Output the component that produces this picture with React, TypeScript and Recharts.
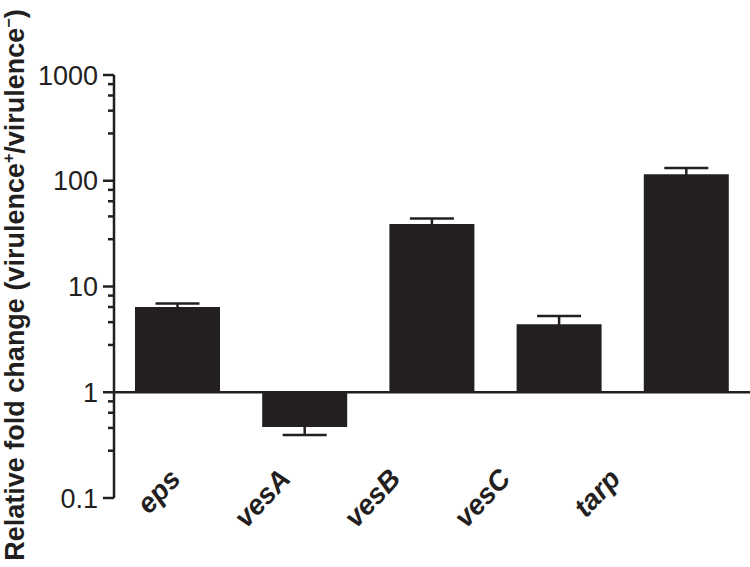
import React from 'react';
import { BarChart, Bar, XAxis, YAxis, ErrorBar, ReferenceLine } from 'recharts';

const genes = ['eps', 'vesA', 'vesB', 'vesC', 'tarp'];
const foldChange = [6.4, 0.47, 39, 4.4, 115];
const foldError = [0.5, 0.075, 5, 0.85, 17];
const majorTicks = [0.1, 1, 10, 100, 1000];
const majorTickLabels = ['0.1', '1', '10', '100', '1000'];
const minorMultipliers = [2.8, 4.6, 6.4, 8.2];
const baseline = 1;

const minorTicks = majorTicks
  .slice(0, -1)
  .flatMap((d) => minorMultipliers.map((m) => +(d * m).toPrecision(3)));
const allTicks = [...majorTicks, ...minorTicks].sort((a, b) => a - b);

const data = genes.map((g, i) => ({
  gene: g,
  range: [baseline, foldChange[i]],
  err: foldError[i],
}));

const INK = '#231f20';
const FONT = '"Liberation Sans", Arial, Helvetica, sans-serif';

const YTick = (props: any) => {
  const { x, y, payload } = props;
  const idx = majorTicks.indexOf(payload.value);
  const major = idx >= 0;
  return (
    <g>
      <line x1={x - (major ? 11 : 6)} x2={x} y1={y} y2={y} stroke={INK} strokeWidth={2.5} />
      {major && (
        <text
          x={x - 16}
          y={y}
          dy="0.36em"
          textAnchor="end"
          fontSize={27}
          fontFamily={FONT}
          fill={INK}
        >
          {majorTickLabels[idx]}
        </text>
      )}
    </g>
  );
};

const XTick = (props: any) => {
  const { x, y, payload } = props;
  return (
    <text
      transform={`translate(${x + 2},${y - 48}) rotate(-47)`}
      textAnchor="end"
      fontSize={28}
      fontWeight="bold"
      fontStyle="italic"
      fontFamily={FONT}
      fill={INK}
    >
      {payload.value}
    </text>
  );
};

const YLabel = () => (
  <text
    transform="translate(24,285) rotate(-90)"
    textAnchor="middle"
    fontSize={27}
    fontWeight="bold"
    fontFamily={FONT}
    fill={INK}
  >
    Relative fold change (virulence
    <tspan dy={-10} fontSize={16}>+</tspan>
    <tspan dy={10}>/virulence</tspan>
    <tspan dy={-10} fontSize={16}>−</tspan>
    <tspan dy={10}>)</tspan>
  </text>
);

export default function App() {
  return (
    <div style={{ position: 'absolute', left: 0, top: 0, width: 750, height: 567, background: '#fff' }}>
      <BarChart
        width={750}
        height={567}
        data={data}
        margin={{ top: 75, right: 0, bottom: 0, left: 0 }}
        barSize={85}
      >
        <XAxis xAxisId="bars" dataKey="gene" type="category" hide />
        <XAxis
          xAxisId="labels"
          dataKey="gene"
          type="category"
          height={69}
          padding={{ left: 11, right: 75 }}
          axisLine={false}
          tickLine={false}
          tickSize={0}
          tickMargin={0}
          interval={0}
          tick={<XTick />}
        />
        <YAxis
          scale="log"
          type="number"
          domain={[0.1, 1000]}
          allowDataOverflow
          ticks={allTicks}
          interval={0}
          width={114}
          tickSize={0}
          tickMargin={0}
          tickLine={false}
          axisLine={{ stroke: INK, strokeWidth: 2.5 }}
          tick={<YTick />}
          label={{ content: () => <YLabel /> }}
        />
        <Bar xAxisId="bars" dataKey="range" fill={INK} isAnimationActive={false}>
          <ErrorBar dataKey="err" width={22} stroke={INK} strokeWidth={2.5} direction="y" />
        </Bar>
        <ReferenceLine xAxisId="bars" y={baseline} stroke={INK} strokeWidth={2.5} ifOverflow="extendDomain" />
      </BarChart>
    </div>
  );
}
